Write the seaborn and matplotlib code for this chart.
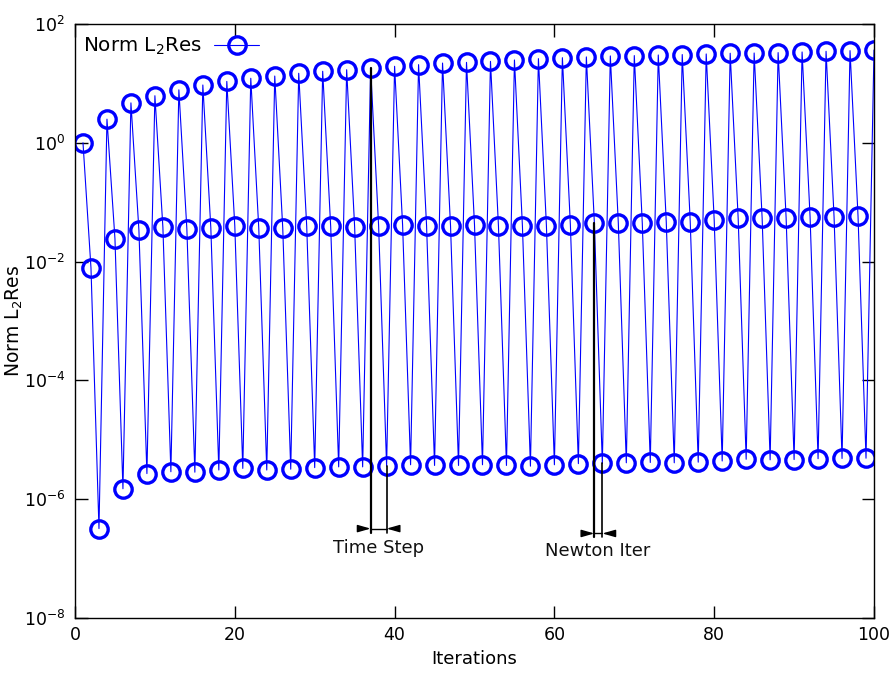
import numpy as np
import pandas as pd
import matplotlib
matplotlib.use("Agg")
import matplotlib.pyplot as plt
import seaborn as sns

# Residual norms per nonlinear iteration: each time step has three Newton
# iterations (first, second, third), stored as three interleaved series.
first_iter_x = list(range(1, 101, 3))
first_iter_res = [1.0, 2.5, 4.7, 6.2, 7.8, 9.4, 10.8, 12.2, 13.3, 14.8, 16.0, 17.0,
                  18.2, 19.4, 20.7, 22.0, 22.6, 23.5, 24.8, 26.1, 27.1, 27.9, 29.0,
                  29.4, 30.1, 30.6, 31.3, 32.2, 32.5, 33.0, 33.8, 34.7, 35.6, 36.5]

second_iter_x = list(range(2, 100, 3))
second_iter_res = [0.0078, 0.0243, 0.0337, 0.0378, 0.0355, 0.0369, 0.0398, 0.0365,
                   0.0365, 0.0394, 0.0390, 0.0378, 0.0398, 0.0414, 0.0405, 0.0398,
                   0.0414, 0.0390, 0.0390, 0.0405, 0.0414, 0.0453, 0.0440, 0.0440,
                   0.0466, 0.0470, 0.0497, 0.0537, 0.0537, 0.0550, 0.0565, 0.0570,
                   0.0588]

third_iter_x = list(range(3, 101, 3))
third_iter_res = [3.2e-7, 1.5e-6, 2.7e-6, 2.9e-6, 2.85e-6, 3.1e-6, 3.3e-6, 3.1e-6,
                  3.2e-6, 3.4e-6, 3.5e-6, 3.5e-6, 3.6e-6, 3.8e-6, 3.7e-6, 3.7e-6,
                  3.8e-6, 3.7e-6, 3.6e-6, 3.8e-6, 3.97e-6, 4.0e-6, 4.1e-6, 4.15e-6,
                  4.1e-6, 4.2e-6, 4.4e-6, 4.7e-6, 4.6e-6, 4.65e-6, 4.8e-6, 4.85e-6,
                  4.9e-6]

x_ticks = [0, 20, 40, 60, 80, 100]
y_ticks = [1e-8, 1e-6, 1e-4, 1e-2, 1e0, 1e2]

df = pd.DataFrame({
    "Iterations": first_iter_x + second_iter_x + third_iter_x,
    "Residual": first_iter_res + second_iter_res + third_iter_res,
}).sort_values("Iterations").reset_index(drop=True)

sns.set_style("ticks")
plt.rcParams["font.family"] = ["DejaVu Sans"]
plt.rcParams["mathtext.fontset"] = "dejavusans"
plt.rcParams["text.color"] = "black"
plt.rcParams["axes.labelcolor"] = "black"
plt.rcParams["xtick.color"] = "black"
plt.rcParams["ytick.color"] = "black"

fig = plt.figure(figsize=(8.94, 6.75), dpi=100)
ax = fig.add_axes([75 / 894, 57 / 675, 799 / 894, 594 / 675])

BLUE = "#0000ff"
sns.lineplot(data=df, x="Iterations", y="Residual", ax=ax, color=BLUE,
             linewidth=0.8, marker="o", markersize=12.5, markerfacecolor="none",
             markeredgecolor=BLUE, markeredgewidth=2.4, label="Norm L$_2$Res",
             sort=True, estimator=None)

ax.set_yscale("log")
ax.set_xlim(0, 100)
ax.set_ylim(1e-8, 1e2)
ax.set_xticks(x_ticks)
ax.set_yticks(y_ticks)
ax.yaxis.set_minor_locator(matplotlib.ticker.NullLocator())
ax.tick_params(which="major", direction="in", length=9, width=1, colors="black",
               top=True, right=True, labelsize=12.5)
ax.tick_params(axis="y", pad=7)
ax.tick_params(axis="x", pad=6)
for sp in ax.spines.values():
    sp.set_visible(True)
    sp.set_color("black")
    sp.set_linewidth(1)

ax.set_xlabel("Iterations", fontsize=13, labelpad=4, color="black")
ax.set_ylabel("Norm L$_2$Res", fontsize=13.5, color="black")
ax.yaxis.set_label_coords(-0.062, 0.5)

leg = ax.legend(loc="upper left", bbox_to_anchor=(0.0, 0.993), frameon=False,
                markerfirst=False, fontsize=14.3, handlelength=2.3,
                borderaxespad=0.0, handletextpad=0.6)
for t in leg.get_texts():
    t.set_color("black")

# Brackets marking one time step and one Newton iteration
def bracket(x_left, x_right, top_left, top_right, y_arrow, y_bottom, x_out_l, x_out_r,
            text, y_text):
    ax.plot([x_left, x_left], [y_bottom, top_left], color="black", lw=1.6)
    ax.plot([x_right, x_right], [y_bottom, top_right], color="black", lw=1.2)
    ax.plot([x_left, x_right], [y_arrow, y_arrow], color="black", lw=1.0)
    style = "-|>,head_length=0.7,head_width=0.2"
    ax.annotate("", xy=(x_left, y_arrow), xytext=(x_out_l, y_arrow),
                arrowprops=dict(arrowstyle=style, color="black", lw=1.0,
                                mutation_scale=11, shrinkA=0, shrinkB=0))
    ax.annotate("", xy=(x_right, y_arrow), xytext=(x_out_r, y_arrow),
                arrowprops=dict(arrowstyle=style, color="black", lw=1.0,
                                mutation_scale=11, shrinkA=0, shrinkB=0))
    ax.text((x_out_l + x_out_r) / 2, y_text, text, ha="center", va="center",
            fontsize=13, color="#111111")

bracket(37, 39, first_iter_res[12], third_iter_res[12], 3.2e-7, 2.65e-7,
        35.4, 40.5, "Time Step", 1.5e-7)
bracket(65, 66, second_iter_res[21], third_iter_res[21], 2.65e-7, 2.3e-7,
        63.5, 67.4, "Newton Iter", 1.33e-7)

fig.savefig("out.png", dpi=100)
